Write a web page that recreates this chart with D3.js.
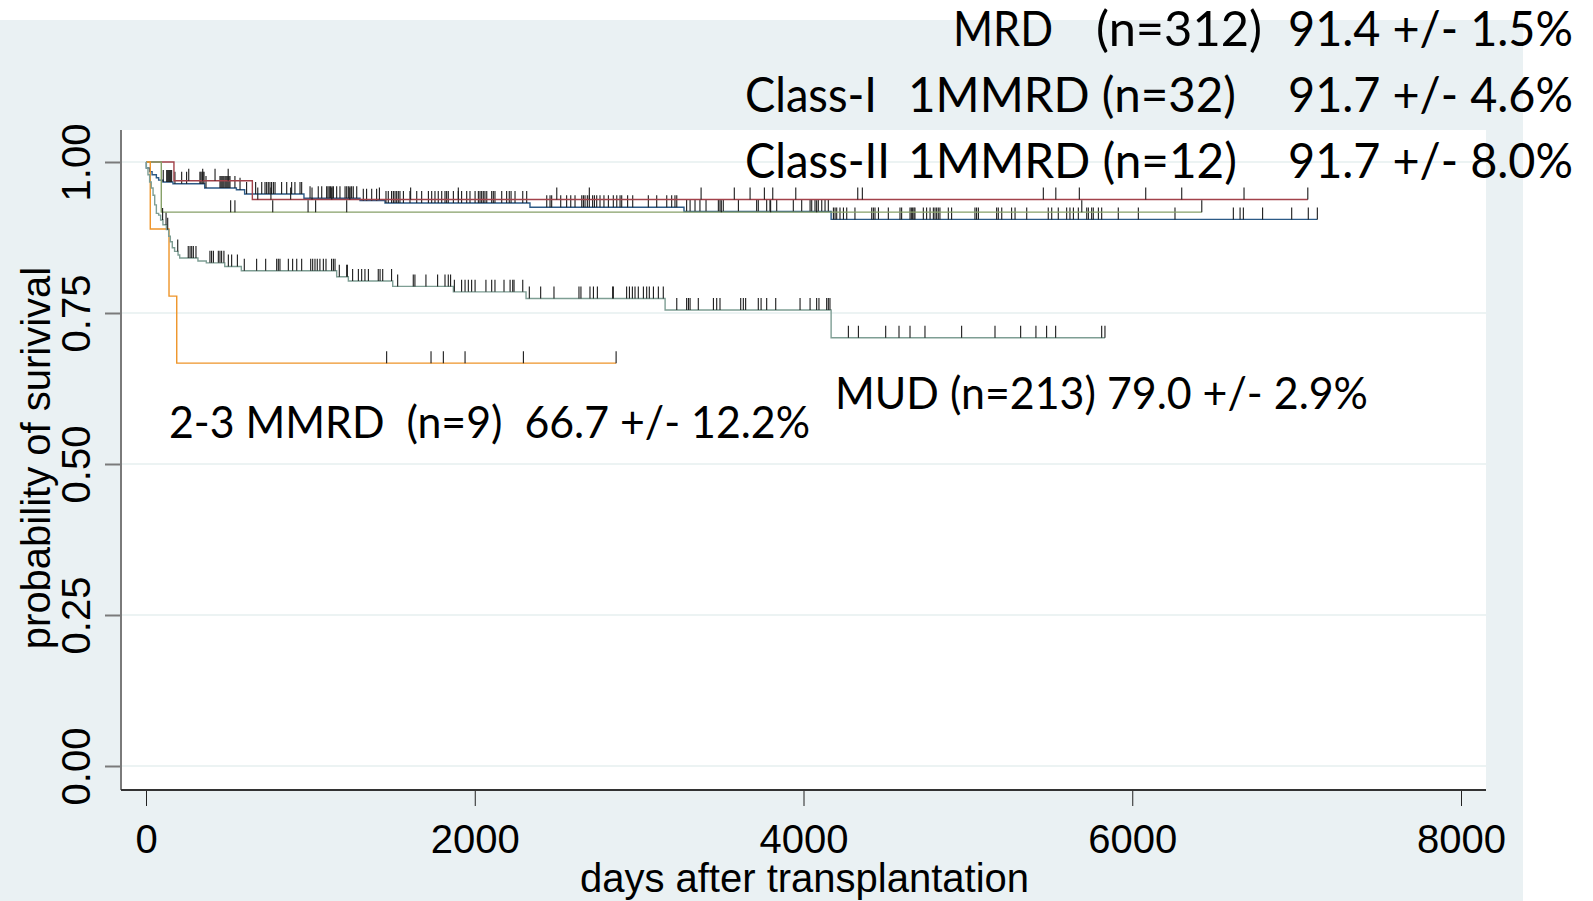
<!DOCTYPE html>
<html lang="en">

<head>
    <title>Survival after transplantation</title>
    <script src="https://d3js.org/d3.v7.min.js"></script>
    <style>
        body {
            margin: 0;
            background: #ffffff;
        }

        svg {
            display: block;
        }

        .axis-text {
            font-family: "Liberation Sans", Arial, sans-serif;
            font-size: 40px;
            fill: #000;
        }

        .note {
            font-family: Lato, "Open Sans", sans-serif;
            fill: #000;
            white-space: pre;
        }
    </style>
</head>

<body>
    <div id="chart"></div>

    <script>
        const xTicks = [0, 2000, 4000, 6000, 8000];
        const yTicks = [0, 0.25, 0.5, 0.75, 1];
        const yTickLabels = ['0.00', '0.25', '0.50', '0.75', '1.00'];

        // steps: [day, survival after the event]
        const mrdSteps = [[2, 0.990], [22, 0.984], [37, 0.979], [63, 0.974], [77, 0.970], [103, 0.967],
            [164, 0.964], [357, 0.957], [550, 0.954], [600, 0.947], [961, 0.940], [1302, 0.936],
            [1454, 0.932], [2336, 0.925], [3273, 0.918], [4168, 0.905]];
        const class1Steps = [[170, 0.969], [647, 0.938]];
        const class2Steps = [[93, 0.917]];
        const mmrdSteps = [[26, 0.889], [140, 0.778], [187, 0.667]];
        const mudSteps = [[2, 0.990], [12, 0.979], [22, 0.967], [32, 0.957], [43, 0.945], [53, 0.929],
            [63, 0.915], [77, 0.912], [89, 0.904], [103, 0.896], [124, 0.888], [138, 0.877],
            [148, 0.868], [160, 0.858], [174, 0.852], [195, 0.846], [205, 0.841], [316, 0.836],
            [367, 0.833], [479, 0.827], [580, 0.820], [1160, 0.810], [1231, 0.803], [1501, 0.794],
            [1870, 0.785], [2312, 0.774], [3158, 0.755], [4168, 0.709]];

        // censored patients (days)
        const mrdCensor = [105, 126, 132, 138, 144, 150, 156, 176, 217, 247, 328, 334, 341, 347, 353, 365,
            450, 456, 462, 468, 474, 481, 487, 493, 499, 505, 511, 541, 572, 612, 667, 704, 724, 734, 744,
            754, 764, 775, 785, 825, 856, 886, 906, 937, 947, 998, 1048, 1069, 1099, 1107, 1115, 1123, 1132,
            1140, 1160, 1180, 1211, 1221, 1231, 1241, 1251, 1261, 1282, 1322, 1342, 1373, 1403, 1460, 1474,
            1494, 1505, 1515, 1525, 1535, 1545, 1566, 1606, 1647, 1677, 1718, 1738, 1758, 1778, 1799, 1819,
            1829, 1839, 1870, 1900, 1920, 1951, 1971, 2002, 2022, 2032, 2042, 2052, 2062, 2073, 2103, 2113,
            2123, 2164, 2194, 2210, 2221, 2245, 2292, 2316, 2438, 2458, 2468, 2523, 2559, 2584, 2610, 2651,
            2661, 2671, 2685, 2697, 2717, 2728, 2742, 2762, 2786, 2813, 2843, 2864, 2884, 2894, 2930, 2961,
            3056, 3107, 3168, 3198, 3218, 3229, 3289, 3310, 3340, 3370, 3407, 3482, 3492, 3512, 3604, 3715,
            3725, 3776, 3796, 3837, 3938, 3989, 4040, 4050, 4070, 4090, 4111, 4131, 4151, 4182, 4192, 4202,
            4222, 4243, 4263, 4313, 4415, 4425, 4435, 4456, 4516, 4587, 4597, 4648, 4656, 4664, 4672, 4678,
            4729, 4749, 4770, 4790, 4800, 4810, 4820, 4830, 4881, 4901, 5043, 5053, 5064, 5175, 5185, 5206,
            5266, 5287, 5358, 5489, 5510, 5550, 5601, 5621, 5642, 5672, 5723, 5733, 5753, 5763, 5794, 5814,
            5915, 6037, 6260, 6615, 6656, 6676, 6793, 6970, 7071, 7126];
        const class1Censor = [260, 345, 420, 500, 680, 760, 880, 1010, 1130, 1240, 1420, 1610, 1900,
            2499, 2697, 3377, 3579, 3675, 3762, 3813, 3953, 4330, 4358,
            5459, 5535, 5678, 6082, 6301, 6680, 7068];
        const class2Censor = [515, 541, 771, 986, 1032, 1221, 3500, 3800, 4080, 5693, 6423];
        const mmrdCensor = [1464, 1734, 1809, 1941, 2296, 2860];
        const mudCensor = [101, 122, 132, 193, 257, 268, 278, 288, 304, 389, 399, 410, 440, 450, 460, 474,
            501, 521, 556, 598, 673, 728, 795, 805, 815, 866, 892, 917, 947, 1002, 1014, 1028, 1042, 1058,
            1079, 1095, 1129, 1140, 1150, 1176, 1221, 1225, 1257, 1292, 1312, 1332, 1353, 1413, 1424, 1440,
            1494, 1531, 1626, 1636, 1703, 1774, 1819, 1839, 1853, 1876, 1920, 1941, 1961, 1981, 2002, 2068,
            2103, 2123, 2178, 2215, 2231, 2239, 2292, 2332, 2401, 2482, 2634, 2646, 2701, 2722, 2746, 2839,
            2843, 2924, 2941, 2959, 2975, 2995, 3026, 3046, 3062, 3087, 3117, 3147, 3229, 3289, 3300, 3310,
            3360, 3452, 3472, 3492, 3618, 3634, 3648, 3725, 3742, 3776, 3831, 3979, 4040, 4080, 4094, 4141,
            4151, 4161, 4273, 4334, 4500, 4581, 4648, 4739, 4962, 5165, 5321, 5414, 5479, 5534, 5814, 5834];

        const groups = [
            { steps: mrdSteps, censor: mrdCensor, color: '#2c5a86' },
            { steps: class1Steps, censor: class1Censor, color: '#a2424a' },
            { steps: class2Steps, censor: class2Censor, color: '#86a068' },
            { steps: mmrdSteps, censor: mmrdCensor, color: '#ee9428' },
            { steps: mudSteps, censor: mudCensor, color: '#7e9e94' }
        ];

        const svgWidth = 1593, svgHeight = 901;
        const plotLeft = 121, plotRight = 1486, plotTop = 130, plotBottom = 790;
        const bgColor = '#eaf1f3';

        const svg = d3.select('#chart')
            .append('svg')
            .attr('width', svgWidth)
            .attr('height', svgHeight);

        svg.append('rect')
            .attr('x', 0).attr('y', 20)
            .attr('width', 1523).attr('height', svgHeight - 20)
            .attr('fill', bgColor);

        svg.append('rect')
            .attr('x', plotLeft).attr('y', plotTop)
            .attr('width', plotRight - plotLeft).attr('height', plotBottom - plotTop)
            .attr('fill', '#ffffff');

        const scaleX = d3.scaleLinear().domain([0, 8000]).range([146, 1461]);
        const scaleY = d3.scaleLinear().domain([0, 1]).range([766, 162]);

        // grid
        svg.append('g')
            .selectAll('line')
            .data(yTicks)
            .join('line')
            .attr('x1', plotLeft).attr('x2', plotRight)
            .attr('y1', d => scaleY(d)).attr('y2', d => scaleY(d))
            .attr('stroke', '#e6efef')
            .attr('stroke-width', 1.5);

        // y axis
        const yAxisG = svg.append('g')
            .attr('transform', 'translate(' + plotLeft + ',0)')
            .call(d3.axisLeft(scaleY)
                .tickValues(yTicks)
                .tickFormat((d, i) => yTickLabels[i])
                .tickSize(16)
                .tickSizeOuter(0));
        yAxisG.select('.domain').remove();
        yAxisG.selectAll('line').attr('stroke', '#7a7a7a').attr('stroke-width', 2);
        yAxisG.selectAll('text')
            .attr('class', 'axis-text')
            .attr('x', null).attr('y', null).attr('dy', null)
            .attr('text-anchor', 'middle')
            .attr('transform', 'translate(-31,0) rotate(-90)');

        svg.append('line')
            .attr('x1', plotLeft).attr('x2', plotLeft)
            .attr('y1', plotTop).attr('y2', plotBottom)
            .attr('stroke', '#7a7a7a').attr('stroke-width', 2);

        // x axis
        const xAxisG = svg.append('g')
            .attr('transform', 'translate(0,' + plotBottom + ')')
            .call(d3.axisBottom(scaleX)
                .tickValues(xTicks)
                .tickFormat(d3.format('d'))
                .tickSize(16)
                .tickSizeOuter(0));
        xAxisG.select('.domain').remove();
        xAxisG.selectAll('line').attr('stroke', '#222').attr('stroke-width', 1);
        xAxisG.selectAll('text')
            .attr('class', 'axis-text')
            .attr('y', 63).attr('dy', null);

        svg.append('line')
            .attr('x1', plotLeft).attr('x2', plotRight)
            .attr('y1', plotBottom).attr('y2', plotBottom)
            .attr('stroke', '#333').attr('stroke-width', 2);

        svg.append('text')
            .attr('class', 'axis-text')
            .attr('x', (scaleX(0) + scaleX(8000)) / 2 + 1)
            .attr('y', 892)
            .attr('text-anchor', 'middle')
            .text('days after transplantation');

        svg.append('text')
            .attr('class', 'axis-text')
            .attr('text-anchor', 'middle')
            .attr('transform', 'translate(50,' + ((plotTop + plotBottom) / 2 - 2) + ') rotate(-90)')
            .text('probability of surivival');

        // curves
        const line = d3.line()
            .x(d => scaleX(d[0]))
            .y(d => scaleY(d[1]))
            .curve(d3.curveStepAfter);

        function survivalAt(steps, t) {
            let s = 1;
            steps.forEach(p => { if (p[0] <= t) s = p[1]; });
            return s;
        }

        const curvesG = svg.append('g');
        groups.forEach(g => {
            const end = Math.max(d3.max(g.censor), d3.max(g.steps, d => d[0]));
            const pts = [[0, 1]].concat(g.steps);
            pts.push([end, g.steps[g.steps.length - 1][1]]);

            curvesG.append('path')
                .datum(pts)
                .attr('fill', 'none')
                .attr('stroke', g.color)
                .attr('stroke-width', 1.4)
                .attr('d', line);

            curvesG.append('g')
                .selectAll('line')
                .data(g.censor)
                .join('line')
                .attr('x1', d => scaleX(d)).attr('x2', d => scaleX(d))
                .attr('y1', d => scaleY(survivalAt(g.steps, d)))
                .attr('y2', d => scaleY(survivalAt(g.steps, d)) - 12)
                .attr('stroke', '#1a1a1a')
                .attr('stroke-width', 1.1);
        });

        // annotations
        const notes = [
            { text: 'MRD', x: 953, y: 46, w: 100, size: 48 },
            { text: '(n=312)', x: 1096, y: 46, w: 166, size: 48 },
            { text: '91.4 +/- 1.5%', x: 1288, y: 46, w: 285, size: 48 },
            { text: 'Class-I', x: 745, y: 112, w: 132, size: 48 },
            { text: '1MMRD (n=32)', x: 908, y: 112, w: 328, size: 48 },
            { text: '91.7 +/- 4.6%', x: 1288, y: 112, w: 285, size: 48 },
            { text: 'Class-II', x: 745, y: 178, w: 145, size: 48 },
            { text: '1MMRD (n=12)', x: 908, y: 178, w: 329, size: 48 },
            { text: '91.7 +/- 8.0%', x: 1288, y: 178, w: 285, size: 48 },
            { text: 'MUD (n=213) 79.0 +/- 2.9%', x: 835, y: 409, w: 533, size: 44 },
            { text: '2-3 MMRD  (n=9)  66.7 +/- 12.2%', x: 169, y: 438, w: 641, size: 44 }
        ];

        svg.append('g')
            .selectAll('text')
            .data(notes)
            .join('text')
            .attr('class', 'note')
            .attr('x', d => d.x)
            .attr('y', d => d.y)
            .attr('font-size', d => d.size + 'px')
            .attr('textLength', d => d.w)
            .attr('lengthAdjust', 'spacingAndGlyphs')
            .text(d => d.text);
    </script>
</body>

</html>
